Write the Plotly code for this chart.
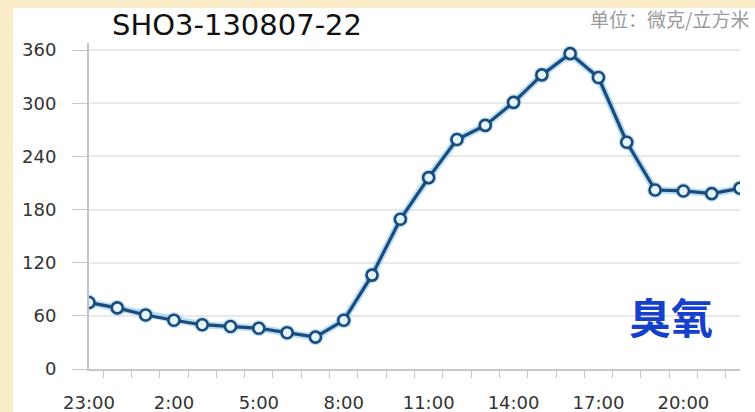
import plotly.graph_objects as go

# Hourly ozone concentration, station SHO3, 2013-08-07 23:00 to 08-08 22:00
hours = ["23:00", "0:00", "1:00", "2:00", "3:00", "4:00", "5:00", "6:00",
         "7:00", "8:00", "9:00", "10:00", "11:00", "12:00", "13:00", "14:00",
         "15:00", "16:00", "17:00", "18:00", "19:00", "20:00", "21:00", "22:00"]
ozone = [75, 69, 61, 55, 50, 48, 46, 41, 36, 55, 106, 169, 216, 259,
         275, 301, 332, 356, 329, 256, 202, 201, 198, 204]
y_ticks = [0, 60, 120, 180, 240, 300, 360]

title_text = "SHO3-130807-22"
unit_text = "单位：微克/立方米"
pollutant = "臭氧"

W, H = 755, 412
ML, MR, MT, MB = 89, 15, 43, 43
PW, PH = W - ML - MR, H - MT - MB
CREAM = "#FAEDC8"


def px_x(px):
    return (px - ML) / PW


def px_y(py):
    return (H - MB - py) / PH


x_idx = list(range(len(hours)))
label_idx = x_idx[::3]
label_txt = hours[::3]

fig = go.Figure()

# soft halo under the line
fig.add_trace(go.Scatter(
    x=x_idx, y=ozone, mode="lines+markers",
    line=dict(color="rgba(120,195,240,0.55)", width=7),
    marker=dict(size=16, color="rgba(120,195,240,0.5)", line=dict(width=0)),
    hoverinfo="skip", showlegend=False,
))
fig.add_trace(go.Scatter(
    x=x_idx, y=ozone, mode="lines+markers",
    line=dict(color="#1d4a78", width=3.2),
    marker=dict(size=11, color="#e3f5fd", line=dict(color="#1d4a78", width=2.6)),
    showlegend=False,
))

fig.update_layout(
    width=W, height=H,
    margin=dict(l=ML, r=MR, t=MT, b=MB, autoexpand=False),
    paper_bgcolor="white",
    plot_bgcolor="white",
    xaxis=dict(
        range=[0, len(hours) - 1], automargin=False,
        tickmode="array", tickvals=label_idx, ticktext=label_txt,
        ticks="", showgrid=False, zeroline=False,
        showline=True, linecolor="#c4c8cc", linewidth=2,
        tickfont=dict(family="DejaVu Sans", size=18, color="#333333"),
        ticklabelstandoff=16,
        minor=dict(tickmode="linear", tick0=0.5, dtick=1, ticks="outside",
                   ticklen=7, tickcolor="#c4c8cc", tickwidth=1, showgrid=False),
    ),
    yaxis=dict(
        range=[0, 368], automargin=False,
        tickmode="array", tickvals=y_ticks,
        ticks="outside", ticklen=15, tickcolor="#c8c8c8", tickwidth=1,
        showgrid=True, gridcolor="#e9e9e9", gridwidth=1.5,
        zeroline=False,
        showline=True, linecolor="#c0c4c8", linewidth=2,
        tickfont=dict(family="DejaVu Sans", size=18, color="#333333"),
        ticklabelstandoff=12,
    ),
    shapes=[
        # cream frame along the left and top edges
        dict(type="rect", xref="paper", yref="paper", layer="below",
             x0=px_x(0), x1=px_x(13), y0=px_y(H), y1=px_y(0),
             fillcolor=CREAM, line=dict(width=0)),
        dict(type="rect", xref="paper", yref="paper", layer="below",
             x0=px_x(0), x1=px_x(W), y0=px_y(8), y1=px_y(0),
             fillcolor=CREAM, line=dict(width=0)),
    ],
    annotations=[
        dict(text=title_text, xref="paper", yref="paper",
             x=px_x(110), y=px_y(25), xanchor="left", yanchor="middle",
             showarrow=False,
             font=dict(family="DejaVu Sans", size=29, color="#111111")),
        dict(text=unit_text, xref="paper", yref="paper",
             x=px_x(W - 4), y=px_y(19), xanchor="right", yanchor="middle",
             showarrow=False,
             font=dict(family="Noto Sans CJK SC", size=19, color="#9a9a9a")),
        dict(text="<b>" + pollutant + "</b>", xref="paper", yref="paper",
             x=px_x(627), y=px_y(315), xanchor="left", yanchor="middle",
             showarrow=False,
             font=dict(family="Noto Sans CJK SC", size=42, color="#1540cc")),
    ],
)

fig.write_html("out.html")
